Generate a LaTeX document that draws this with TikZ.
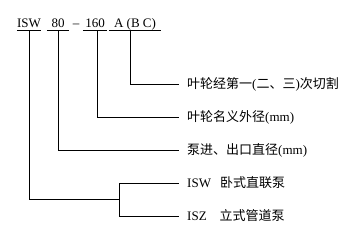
\documentclass[tikz,border=0pt]{standalone}
\usepackage{fontspec}
\setmainfont{Liberation Serif}
\newfontfamily\cjk{Noto Sans CJK SC}
\usetikzlibrary{positioning}

\begin{document}
\begin{tikzpicture}[x=1pt,y=1pt,font=\fontsize{13}{15}\selectfont,
 code/.style={inner xsep=0pt,inner ysep=2.5pt,text height=9pt,text depth=0pt},
 lbl/.style={anchor=west,inner sep=0pt},
 link/.style={line width=0.9pt}]
\useasboundingbox (0,0) rectangle (352,235);
% model code
\node[code,minimum width=24pt] (series) at (29,212) {ISW};
\node[code,minimum width=22pt] (inlet) at (58,212) {80};
\node[code] (dash) at (76,212) {--};
\node[code,minimum width=24pt] (impeller) at (95,212) {160};
\node[code,minimum width=52pt] (trim) at (135,212) {A~(B~C)};
\foreach \n in {series,inlet,impeller,trim}
  \draw[link] (\n.south west)--(\n.south east);
% meanings
\node[lbl] (cut) at (187,151) {{\cjk 叶轮经第一}({\cjk 二、三}){\cjk 次切割}};
\node[lbl] (dia) at (187,118) {{\cjk 叶轮名义外径}(mm)};
\node[lbl] (bore) at (187,85) {{\cjk 泵进、出口直径}(mm)};
\node[lbl] (horiz) at (187,52) {ISW\hspace{9pt}{\cjk 卧式直联泵}};
\node[lbl] (vert) at (187,19) {ISZ\hspace{13pt}{\cjk 立式管道泵}};
\coordinate (fork) at (119,36);
\draw[link] ([xshift=-5pt]trim.south) |- ([xshift=-8pt]cut.west);
\draw[link] ([xshift=2pt]impeller.south) |- ([xshift=-8pt]dia.west);
\draw[link] (inlet.south) |- ([xshift=-8pt]bore.west);
\draw[link] (series.south) |- (fork);
\draw[link] (fork) |- ([xshift=-8pt]horiz.west);
\draw[link] (fork) |- ([xshift=-8pt]vert.west);
\end{tikzpicture}
\end{document}
